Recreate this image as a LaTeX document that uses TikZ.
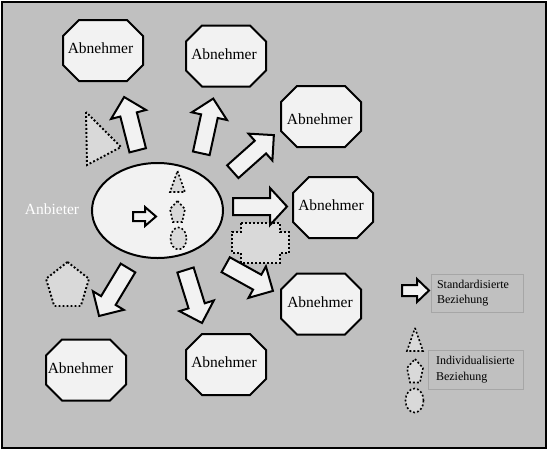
\documentclass[tikz,border=0pt]{standalone}
\usepackage{fontspec}
\setmainfont{Liberation Serif}
\usetikzlibrary{shapes.geometric}
\definecolor{bggray}{HTML}{C0C0C0}
\definecolor{boxfill}{HTML}{F2F2F2}
\definecolor{dotfill}{HTML}{D9D9D9}
\definecolor{legline}{HTML}{A6A6A6}

% block arrow: tail, angle, length, shaft half width, head half width, head length
\newcommand{\blockarrow}[6]{%
  \draw[blockarr, shift={#1}, rotate=#2] (0,-#4) -- ({#3-#6},-#4) -- ({#3-#6},-#5) -- (#3,0) -- ({#3-#6},#5) -- ({#3-#6},#4) -- (0,#4) -- cycle;}

\begin{document}
\begin{tikzpicture}[x=1pt, y=-1pt,
    octa/.style={draw, line width=2pt, fill=boxfill},
    abn/.style={font=\fontsize{15.5}{18}\selectfont, inner sep=0pt},
    blockarr/.style={draw, line width=2pt, fill=boxfill, line join=miter},
    dots/.style={draw, line width=1.9pt, dash pattern=on 1.9pt off 2.1pt, fill=dotfill},
    legbox/.style={draw=legline, line width=0.8pt, font=\fontsize{12}{15.5}\selectfont, align=left}]

    \useasboundingbox (0,0) rectangle (548,450);
    % Draw background
    \fill[white] (0,0) rectangle (548,450);
    \draw[line width=2pt, fill=bggray] (2,2) rectangle (545.5,447.5);

    % Draw customers
    \foreach \n/\x/\y/\u/\v in {ab1/103/50.5/100.5/48.5, ab2/226/56/224/54.5, ab3/321/116.5/319.7/119, ab4/333/207.5/331/205.5, ab5/321/304/320/302, ab6/86/370/80.5/368, ab7/226/364.5/224/362}{
        \draw[octa, shift={(\x,\y)}] (-24,-30.5) -- (24,-30.5) -- (40,-14.5) -- (40,14.5) -- (24,30.5) -- (-24,30.5) -- (-40,14.5) -- (-40,-14.5) -- cycle;
        \node[abn] (\n) at (\u,\v) {Abnehmer};
    }

    % Draw supplier
    \node[draw, ellipse, line width=2pt, fill=boxfill, minimum width=131, minimum height=95, inner sep=0pt] (anb) at (157.5,210.5) {};
    \node[font=\fontsize{15.5}{18}\selectfont, text=white] (anblabel) at (52,209) {Anbieter};

    % Draw individual shapes
    \draw[dots] (86,112) -- (87,165) -- (121,147) -- cycle;
    \draw[dots, shift={(67.5,286.3)}, xscale=22.6, yscale=24.3] (0,-1) -- (0.951,-0.309) -- (0.588,0.809) -- (-0.588,0.809) -- (-0.951,-0.309) -- cycle;
    \draw[dots] (241,223) -- (280,223) -- (280,232) -- (289,232) -- (289,253) -- (280,253) -- (280,263) -- (241,263) -- (241,253) -- (232,253) -- (232,232) -- (241,232) -- cycle;

    % Draw shapes inside supplier
    \draw[dots, line width=1.6pt] (177.5,171) -- (185,192) -- (170,192) -- cycle;
    \draw[dots, line width=1.6pt, shift={(177.5,212.6)}, xscale=7.9, yscale=11.6] (0,-1) -- (0.951,-0.309) -- (0.588,0.809) -- (-0.588,0.809) -- (-0.951,-0.309) -- cycle;
    \draw[dots, line width=1.6pt] (178.5,238.5) ellipse [x radius=8, y radius=11];

    % Draw arrows
    \blockarrow{(137.7,150.3)}{104.3}{55}{8.5}{18}{18}
    \blockarrow{(201.3,153.3)}{77.7}{56}{8.5}{18}{18}
    \blockarrow{(232.8,171.7)}{41.7}{55}{8.5}{18}{18}
    \blockarrow{(233,206.5)}{0}{54}{8.5}{18.5}{17}
    \blockarrow{(225.7,264.7)}{-29}{54}{8.5}{18}{18}
    \blockarrow{(185.5,270)}{-72.7}{55.5}{8.5}{18}{18}
    \blockarrow{(128,268)}{-121.1}{56}{8.5}{18}{18}
    \blockarrow{(133,216.5)}{0}{23}{4.5}{9.5}{11}

    % Draw legend
    \blockarrow{(402,290.5)}{0}{27}{5.5}{11.5}{12}
    \node[legbox, text width=80, inner xsep=6, inner ysep=3, minimum height=38] (std) at (477,293) {Standardisierte\\Beziehung};
    \draw[dots, line width=1.6pt] (415,328) -- (423,351) -- (407,351) -- cycle;
    \draw[dots, line width=1.6pt, shift={(415,372)}, xscale=8.4, yscale=13] (0,-1) -- (0.951,-0.309) -- (0.588,0.809) -- (-0.588,0.809) -- (-0.951,-0.309) -- cycle;
    \draw[dots, line width=1.6pt] (414.5,400.5) ellipse [x radius=9, y radius=12];
    \node[legbox, text width=79, inner xsep=8, inner ysep=3, minimum height=39] (ind) at (475.5,369.5) {Individualisierte\\Beziehung};
\end{tikzpicture}
\end{document}
